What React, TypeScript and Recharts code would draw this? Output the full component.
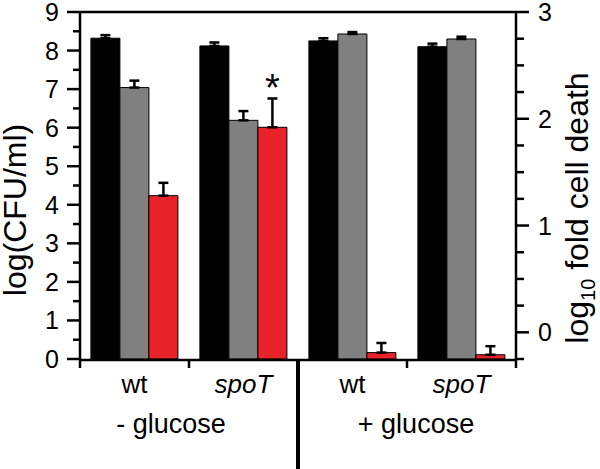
import React from 'react';
import { ComposedChart, Bar, XAxis, YAxis, ErrorBar, LabelList } from 'recharts';

// ---- data ----
const categories = ['wt_minus', 'spoT_minus', 'wt_plus', 'spoT_plus'];
const categoryLabels = ['wt', 'spoT', 'wt', 'spoT'];
const categoryItalic = [false, true, false, true];
const groupLabels = ['- glucose', '+ glucose'];
const groupTickValues = [1, 3];

const blackValues = [8.32, 8.12, 8.25, 8.1];
const blackErrors = [0.08, 0.09, 0.07, 0.08];
const grayValues = [7.04, 6.19, 8.43, 8.3];
const grayErrors = [0.18, 0.24, 0.05, 0.06];
const redValues = [1.28, 1.92, -0.19, -0.21];
const redErrors = [0.12, 0.27, 0.09, 0.08];
const annotations = ['', '*', '', ''];

const leftDomain: [number, number] = [0, 9];
const leftTicks = [0, 0.5, 1, 1.5, 2, 2.5, 3, 3.5, 4, 4.5, 5, 5.5, 6, 6.5, 7, 7.5, 8, 8.5, 9];
const rightDomain: [number, number] = [-0.25, 3];
const rightTicks = [-0.25, 0, 0.25, 0.5, 0.75, 1, 1.25, 1.5, 1.75, 2, 2.25, 2.5, 2.75, 3];
const frameDomain: [number, number] = [0, 4];
const frameTicks = [0, 1, 2, 3, 4];

const leftTitle = 'log(CFU/ml)';
const rightTitleParts = ['log', '10', ' fold cell death'];

const data = categories.map((id, i) => ({
  id,
  slot: i,
  black: blackValues[i],
  blackErr: [0, blackErrors[i]],
  gray: grayValues[i],
  grayErr: [0, grayErrors[i]],
  red: [rightDomain[0], redValues[i]],
  redErr: [0, redErrors[i]],
  note: annotations[i],
}));

// ---- styles ----
const FONT = '"Liberation Sans", Arial, Helvetica, sans-serif';
const BLACK = '#000000';
const GRAY = '#808080';
const RED = '#e8232a';
const AXIS_W = 2.5;

const LeftTick = (props: any) => {
  const { x, y, payload } = props;
  const v = payload.value;
  const major = Number.isInteger(v);
  return (
    <g>
      <line x1={x} x2={x - (major ? 13 : 7)} y1={y} y2={y} stroke={BLACK} strokeWidth={AXIS_W} />
      {major && (
        <text x={x - 21} y={y} dy="0.36em" textAnchor="end" fontSize={25} fontFamily={FONT} fill={BLACK}>
          {v}
        </text>
      )}
    </g>
  );
};

const RightTick = (props: any) => {
  const { x, y, payload } = props;
  const v = payload.value;
  const major = Number.isInteger(v);
  return (
    <g>
      <line x1={x} x2={x + (major ? 13 : 8)} y1={y} y2={y} stroke={BLACK} strokeWidth={AXIS_W} />
      {major && (
        <text x={x + 22} y={y} dy="0.36em" textAnchor="start" fontSize={25} fontFamily={FONT} fill={BLACK}>
          {v}
        </text>
      )}
    </g>
  );
};

const CategoryTick = (props: any) => {
  const { x, y, payload } = props;
  const i = categories.indexOf(payload.value);
  if (i < 0) return null;
  return (
    <text
      x={x}
      y={y + 34}
      textAnchor="middle"
      fontSize={26}
      fontStyle={categoryItalic[i] ? 'italic' : 'normal'}
      fontFamily={FONT}
      fill={BLACK}
    >
      {categoryLabels[i]}
    </text>
  );
};

const groupDx = [-18, 9];

const FrameTick = (props: any) => {
  const { x, y, payload } = props;
  const v = payload.value;
  if (v === 2) {
    return <line x1={x} x2={x} y1={y} y2={y + 110} stroke={BLACK} strokeWidth={4} />;
  }
  const gi = groupTickValues.indexOf(v);
  return (
    <g>
      <line x1={x} x2={x} y1={y} y2={y + 8} stroke={BLACK} strokeWidth={AXIS_W} />
      {gi >= 0 && (
        <text x={x + groupDx[gi]} y={y + 73} textAnchor="middle" fontSize={27} fontFamily={FONT} fill={BLACK}>
          {groupLabels[gi]}
        </text>
      )}
    </g>
  );
};

const NoteLabel = (props: any) => {
  const { x, y, width, value } = props;
  if (!value) return null;
  return (
    <text x={x + width / 2} y={y - 26} textAnchor="middle" fontSize={38} fontFamily={FONT} fill={BLACK}>
      {value}
    </text>
  );
};

const LeftTitle = () => (
  <text
    transform="translate(26,210) rotate(-90)"
    textAnchor="middle"
    fontSize={32}
    fontFamily={FONT}
    fill={BLACK}
  >
    {leftTitle}
  </text>
);

const RightTitle = () => (
  <text
    transform="translate(588,208) rotate(-90)"
    textAnchor="middle"
    fontSize={32}
    fontFamily={FONT}
    fill={BLACK}
  >
    <tspan>{rightTitleParts[0]}</tspan>
    <tspan fontSize={20} dy={7}>{rightTitleParts[1]}</tspan>
    <tspan dy={-7}>{rightTitleParts[2]}</tspan>
  </text>
);

export default function App() {
  return (
    <div style={{ position: 'absolute', left: 0, top: 0, width: 600, height: 469, background: '#fff' }}>
      <ComposedChart
        width={600}
        height={469}
        data={data}
        margin={{ top: 11, right: 0, bottom: 108, left: 0 }}
        barCategoryGap="10%"
        barGap={0}
      >
        <XAxis
          xAxisId="frame"
          type="number"
          dataKey="slot"
          domain={frameDomain}
          ticks={frameTicks}
          interval={0}
          height={1}
          axisLine={{ stroke: BLACK, strokeWidth: AXIS_W }}
          tickLine={false}
          tickSize={0}
          tickMargin={0}
          tick={<FrameTick />}
          allowDataOverflow
        />
        <XAxis
          xAxisId="cat"
          dataKey="id"
          height={1}
          interval={0}
          axisLine={false}
          tickLine={false}
          tickSize={0}
          tickMargin={0}
          tick={<CategoryTick />}
        />
        <XAxis
          xAxisId="top"
          dataKey="id"
          orientation="top"
          height={1}
          axisLine={{ stroke: BLACK, strokeWidth: AXIS_W }}
          tickLine={false}
          tick={false}
        />
        <YAxis
          yAxisId="left"
          orientation="left"
          width={80}
          domain={leftDomain}
          ticks={leftTicks}
          interval={0}
          allowDataOverflow
          axisLine={{ stroke: BLACK, strokeWidth: AXIS_W }}
          tickLine={false}
          tickSize={0}
          tickMargin={0}
          tick={<LeftTick />}
          label={{ content: () => <LeftTitle /> }}
        />
        <YAxis
          yAxisId="right"
          orientation="right"
          width={84}
          domain={rightDomain}
          ticks={rightTicks}
          interval={0}
          allowDataOverflow
          axisLine={{ stroke: BLACK, strokeWidth: AXIS_W }}
          tickLine={false}
          tickSize={0}
          tickMargin={0}
          tick={<RightTick />}
          label={{ content: () => <RightTitle /> }}
        />
        <Bar xAxisId="cat" yAxisId="left" dataKey="black" fill={BLACK} stroke={BLACK} strokeWidth={1} isAnimationActive={false}>
          <ErrorBar dataKey="blackErr" width={5} stroke={BLACK} strokeWidth={2.5} isAnimationActive={false} />
        </Bar>
        <Bar xAxisId="cat" yAxisId="left" dataKey="gray" fill={GRAY} stroke={BLACK} strokeWidth={1} isAnimationActive={false}>
          <ErrorBar dataKey="grayErr" width={5} stroke={BLACK} strokeWidth={2.5} isAnimationActive={false} />
        </Bar>
        <Bar xAxisId="cat" yAxisId="right" dataKey="red" fill={RED} stroke={BLACK} strokeWidth={1} isAnimationActive={false}>
          <ErrorBar dataKey="redErr" width={5} stroke={BLACK} strokeWidth={2.5} isAnimationActive={false} />
          <LabelList dataKey="note" content={<NoteLabel />} />
        </Bar>
      </ComposedChart>
    </div>
  );
}
